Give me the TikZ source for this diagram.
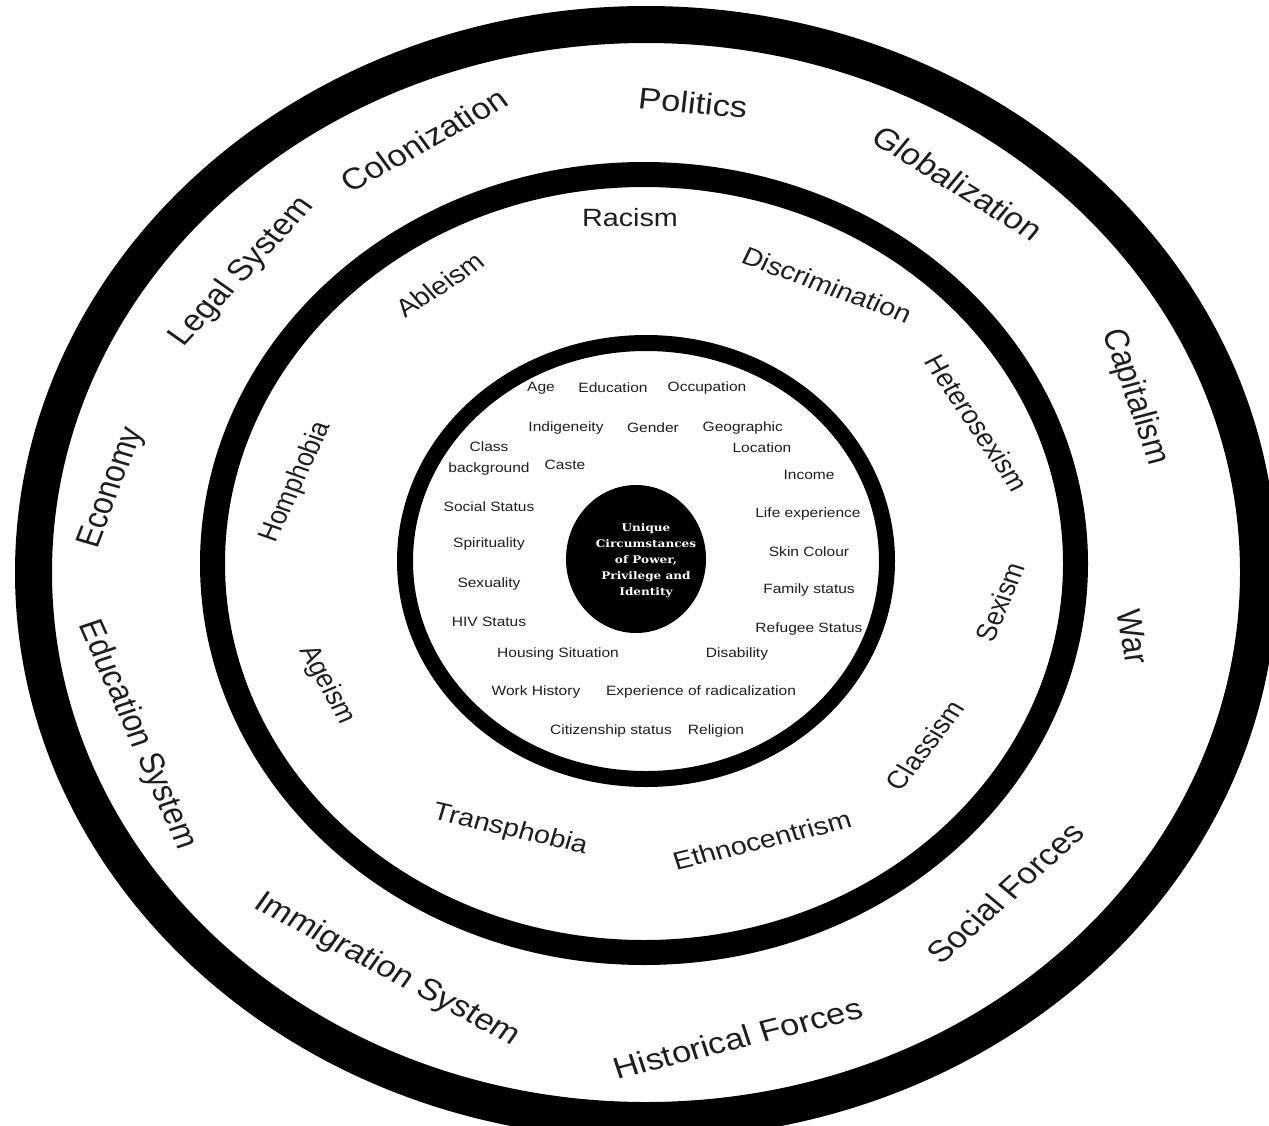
\documentclass[tikz,border=0pt]{standalone}
\usepackage{fontspec}
\setmainfont{Liberation Sans}
\newfontfamily\ctrfont{DejaVu Serif}
\definecolor{txtcol}{HTML}{1E1E1E}
\tikzset{
  ringline/.style={draw=black},
  outerlbl/.style={font=\fontsize{30}{36}\selectfont, text=txtcol, inner sep=0pt},
  midlbl/.style={font=\fontsize{25}{30}\selectfont, text=txtcol, inner sep=0pt},
  innerlbl/.style={font=\fontsize{13.5}{21}\selectfont, text=txtcol, inner sep=0pt, align=center},
  ctrtxt/.style={font=\ctrfont\bfseries\fontsize{10.5}{16}\selectfont, text=white, inner sep=0pt, align=center}
}
\begin{document}
\begin{tikzpicture}[x=1pt,y=-1pt]
\useasboundingbox[fill=white] (0,0) rectangle (1269,1125);
% rings
\draw[ringline, line width=37] (646,572.5) ellipse [x radius=612.5, y radius=548];
\draw[ringline, line width=25] (644,563.5) ellipse [x radius=431.5, y radius=389];
\draw[ringline, line width=16] (646,561) ellipse [x radius=241, y radius=218];
\fill[black] (636,559) ellipse [x radius=70, y radius=74];
\begin{scope}[xscale=1.15, x=0.869565pt, transform shape]
% outer ring labels
\node[outerlbl, rotate=-5.7] (politics) at (693,103) {Politics};
\node[outerlbl, rotate=32.5] (colon) at (424,140) {Colonization};
\node[outerlbl, rotate=51] (legal) at (242,272) {Legal System};
\node[outerlbl, rotate=71.6] (economy) at (112,488) {Economy};
\node[outerlbl, rotate=-69] (edusys) at (137,735) {Education System};
\node[outerlbl, rotate=-31.5] (immig) at (387,970) {Immigration System};
\node[outerlbl, rotate=16] (histf) at (738,1038) {Historical Forces};
\node[outerlbl, rotate=46] (socf) at (1005,893) {Social Forces};
\node[outerlbl, rotate=-81] (war) at (1133,637) {War};
\node[outerlbl, rotate=-73] (capit) at (1135,397) {Capitalism};
\node[outerlbl, rotate=-35.7] (glob) at (958,183) {Globalization};
% middle ring labels
\node[midlbl] (racism) at (630,218) {Racism};
\node[midlbl, rotate=37] (ableism) at (440,285) {Ableism};
\node[midlbl, rotate=-22.7] (discr) at (827,285) {Discrimination};
\node[midlbl, rotate=-59.5] (hetero) at (977,423) {Heterosexism};
\node[midlbl, rotate=70] (sexism) at (1000,602) {Sexism};
\node[midlbl, rotate=56] (classism) at (925,745) {Classism};
\node[midlbl, rotate=15.7] (ethno) at (762,840) {Ethnocentrism};
\node[midlbl, rotate=-14.5] (transph) at (510,830) {Transphobia};
\node[midlbl, rotate=-64] (ageism) at (327,685) {Ageism};
\node[midlbl, rotate=68] (homph) at (296,482) {Homphobia};
% inner labels
\node[innerlbl] (age) at (541,388) {Age};
\node[innerlbl] (educ) at (613,388) {Education};
\node[innerlbl] (occup) at (707,388) {Occupation};
\node[innerlbl] (indig) at (566,428) {Indigeneity};
\node[innerlbl] (gender) at (653,428) {Gender};
\node[innerlbl, align=left] (geo) at (747,437.5) {Geographic\\\hspace*{26pt}Location};
\node[innerlbl] (class) at (489,458.5) {Class\\background};
\node[innerlbl] (caste) at (565,465) {Caste};
\node[innerlbl] (income) at (809,475) {Income};
\node[innerlbl] (socstat) at (489,507) {Social Status};
\node[innerlbl] (lifeexp) at (808,514) {Life experience};
\node[innerlbl] (spirit) at (489,544) {Spirituality};
\node[innerlbl] (skin) at (809,552) {Skin Colour};
\node[innerlbl] (sexual) at (489,584) {Sexuality};
\node[innerlbl] (family) at (809,590) {Family status};
\node[innerlbl] (hiv) at (489,622) {HIV Status};
\node[innerlbl] (refugee) at (809,629) {Refugee Status};
\node[innerlbl] (housing) at (558,654) {Housing Situation};
\node[innerlbl] (disab) at (737,654) {Disability};
\node[innerlbl] (work) at (536,692) {Work History};
\node[innerlbl] (radic) at (701,692) {Experience of radicalization};
\node[innerlbl] (citiz) at (611,731) {Citizenship status};
\node[innerlbl] (relig) at (716,731) {Religion};
% centre
\node[ctrtxt] (core) at (646,561) {Unique\\Circumstances\\of Power,\\Privilege and\\Identity};
\end{scope}
\end{tikzpicture}
\end{document}
